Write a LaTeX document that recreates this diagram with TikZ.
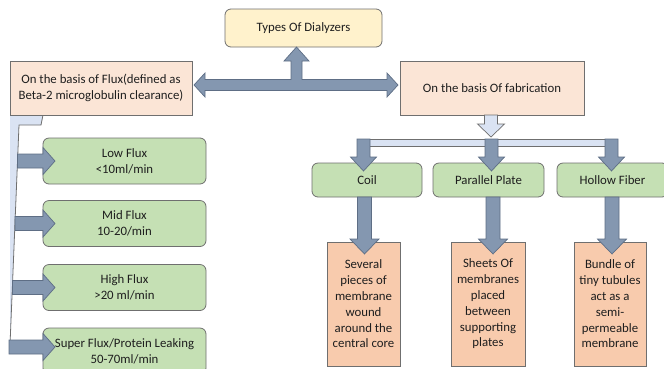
\documentclass[tikz,border=0pt]{standalone}
\usepackage{fontspec}
\setmainfont{Carlito}
\definecolor{yel}{HTML}{FFF2CC}
\definecolor{pale}{HTML}{FBE5D6}
\definecolor{peach}{HTML}{F8CBAD}
\definecolor{grn}{HTML}{C5E0B4}
\definecolor{arr}{HTML}{8497B0}
\definecolor{arrline}{HTML}{5E6E85}
\definecolor{lblue}{HTML}{DAE3F3}
\definecolor{edge}{HTML}{6F6F6F}
\definecolor{txt}{HTML}{1E1E1E}
\newcommand{\vblk}[7]{\draw[#1] ({#2-#6},#3) -- ({#2+#6},#3) -- ({#2+#6},#4) -- ({#2+#7},#4) -- (#2,#5) -- ({#2-#7},#4) -- ({#2-#6},#4) -- cycle;}
\newcommand{\hblk}[7]{\draw[#1] (#3,{#2-#6}) -- (#4,{#2-#6}) -- (#4,{#2-#7}) -- (#5,#2) -- (#4,{#2+#7}) -- (#4,{#2+#6}) -- (#3,{#2+#6}) -- cycle;}
\begin{document}
\begin{tikzpicture}[x=1pt,y=-1pt,
  base/.style={draw=edge, line width=0.8pt, inner sep=0pt, align=center, text=txt,
    font=\fontsize{12.8}{15.8}\selectfont},
  ybox/.style={base, fill=yel, rounded corners=6pt},
  pbox/.style={base, fill=pale},
  gbox/.style={base, fill=grn, rounded corners=6pt},
  obox/.style={base, fill=peach},
  darr/.style={fill=arr, draw=arrline, line width=0.7pt, line join=miter},
  larr/.style={fill=lblue, draw=edge, line width=0.7pt, line join=miter}]
\useasboundingbox (0,0) rectangle (664,368);
\clip (0,0) rectangle (664,368);
% left bracket
\fill[lblue] (10,115) -- (43,115) -- (41,125) -- (19,125) -- (10,345) -- (10,115) -- cycle;
\draw[edge, line width=0.8pt] (43,115) -- (41,125) -- (19,125) -- (10,345);
% boxes
\node[ybox, minimum width=157pt, minimum height=38pt] (types) at (303.5,28) {Types Of Dialyzers};
\node[pbox, minimum width=182pt, minimum height=54pt] (flux) at (101,88) {On the basis of Flux(defined as\\Beta-2 microglobulin clearance)};
\node[pbox, minimum width=184pt, minimum height=54pt] (fab) at (492,88) {On the basis Of fabrication};
\node[gbox, minimum width=163pt, minimum height=46pt] (low) at (124.5,161) {Low Flux\\<10ml/min};
\node[gbox, minimum width=163pt, minimum height=46pt] (mid) at (124.5,223.5) {Mid Flux\\10-20/min};
\node[gbox, minimum width=163pt, minimum height=46pt] (high) at (124.5,287.5) {High Flux\\>20 ml/min};
\node[gbox, minimum width=163pt, minimum height=46pt] (super) at (124.5,351) {Super Flux/Protein Leaking\\50-70ml/min};
\node[gbox, minimum width=110pt, minimum height=34pt] (coil) at (367,180) {Coil};
\node[gbox, minimum width=111pt, minimum height=34pt] (pp) at (488.5,180) {Parallel Plate};
\node[gbox, minimum width=111pt, minimum height=34pt] (hf) at (612.5,180) {Hollow Fiber};
\node[obox, minimum width=73pt, minimum height=124pt] (coilD) at (363.5,304) {Several\\pieces of\\membrane\\wound\\around the\\central core};
\node[obox, minimum width=74pt, minimum height=124pt] (ppD) at (488,304) {Sheets Of\\membranes\\placed\\between\\supporting\\plates};
\node[obox, minimum width=72pt, minimum height=124pt] (hfD) at (610,304) {Bundle of\\tiny tubules\\act as a\\semi-\\permeable\\membrane};
% T double arrow
\draw[darr] (194,85) -- (205,73) -- (205,79.5) -- (291,79.5) -- (291,61) -- (284,61) -- (296.5,47) -- (309,61) -- (302,61) -- (302,79.5) -- (387,79.5) -- (387,73) -- (398,85) -- (387,97) -- (387,90.5) -- (205,90.5) -- (205,97) -- cycle;
% left arrows
\hblk{darr}{161}{17.5}{43}{55}{7}{13.5}
\hblk{darr}{223.5}{15}{43}{55}{7}{13.5}
\hblk{darr}{287.5}{12.4}{43}{55}{7}{13.5}
\hblk{darr}{347}{9}{43}{55}{7}{13.5}
% fabrication split
\draw[larr] (364,139) rectangle (611,146);
\vblk{larr}{491}{115}{124}{137}{6.5}{13.5}
\vblk{darr}{363.5}{139}{157}{171}{6.5}{13}
\vblk{darr}{491.5}{139}{157}{171}{6.5}{13}
\vblk{darr}{611.5}{139}{157}{171}{6.5}{13}
% to descriptions
\vblk{darr}{364.5}{197}{239}{254}{7}{14.5}
\vblk{darr}{493}{197}{239}{254}{7}{14.5}
\vblk{darr}{612}{197}{239}{254}{7}{14.5}
\end{tikzpicture}
\end{document}
